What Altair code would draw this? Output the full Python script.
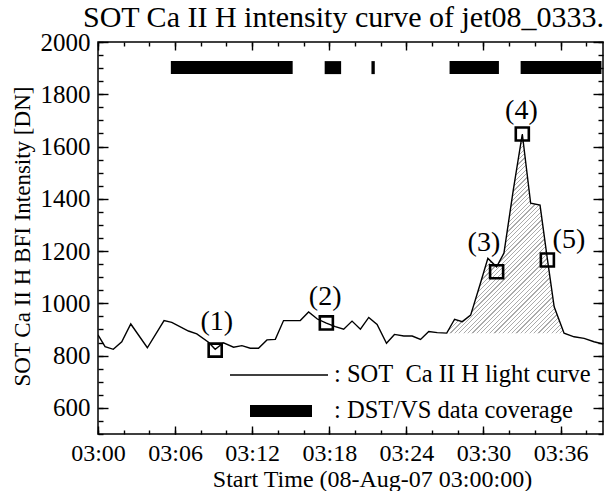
import math
import altair as alt
import pandas as pd

# ---------------- data ----------------
# minutes after 03:00:00
t_min = [0.00, 0.55, 1.19, 1.85, 2.55, 3.84, 5.14, 5.74, 7.04, 7.69,
         8.60, 9.12, 9.77, 10.55, 11.20, 11.85, 12.49, 13.15, 13.80, 14.44,
         15.74, 16.39, 17.07, 17.77, 18.47, 19.12, 19.77, 20.42, 21.07, 21.72,
         22.45, 23.07, 23.80, 24.45, 25.10, 25.74, 26.40, 27.14, 27.75, 28.35,
         29.00, 29.72, 30.34, 31.02, 31.59, 32.32, 33.02, 33.67, 34.40, 34.97,
         35.50, 36.27, 37.05, 37.83, 38.60, 39.36]
intensity = [879, 834, 824, 853, 921, 830, 934, 927, 894, 883,
             851, 824, 849, 832, 838, 828, 828, 860, 862, 934,
             934, 967, 940, 924, 911, 901, 932, 901, 946, 919,
             847, 881, 875, 875, 862, 892, 888, 886, 939, 930,
             955, 1070, 1172, 1140, 1192, 1434, 1648, 1383, 1376, 1170,
             987, 886, 872, 866, 853, 844]

# hatched interval
hatch_start = 27.14
hatch_end = 36.27
hatch_base = 886

# marked frames (1)..(5)
box_t = [9.12, 17.77, 31.02, 33.02, 34.97]
box_v = [821, 925, 1121, 1648, 1166]
label_text = ["(1)", "(2)", "(3)", "(4)", "(5)"]
label_t = [9.25, 17.68, 30.03, 32.95, 36.65]
label_v = [930, 1025, 1232, 1737, 1242]

# DST/VS data coverage (minutes after 03:00)
cov_start = [5.67, 17.64, 21.28, 27.36, 32.89]
cov_end = [15.15, 18.92, 21.54, 31.20, 39.18]
cov_level = 1902

x_tick_values = [0, 6, 12, 18, 24, 30, 36]
x_tick_labels = ["03:00", "03:06", "03:12", "03:18", "03:24", "03:30", "03:36"]
x_minor_values = list(range(0, 40, 2))
y_tick_values = [600, 800, 1000, 1200, 1400, 1600, 1800, 2000]
y_minor_values = list(range(500, 2001, 50))

legend_texts = [":\u00a0SOT\u00a0 Ca II H light curve", ":\u00a0DST/VS data coverage"]

TITLE = "SOT Ca II H intensity curve of jet08_0333."
X_TITLE = "Start Time (08-Aug-07 03:00:00)"
Y_TITLE = "SOT Ca II H BFI Intensity [DN]"

# ---------------- layout ----------------
W, H = 505, 392
X_DOMAIN = [0, 39.3]
Y_DOMAIN = [500, 2000]
FONT = "Liberation Serif"

curve = pd.DataFrame({"t": t_min, "v": intensity})
boxes_df = pd.DataFrame({"t": box_t, "v": box_v})
labels_df = pd.DataFrame({"t": label_t, "v": label_v, "label": label_text})
cov_df = pd.DataFrame({"s": cov_start, "e": cov_end})
one = pd.DataFrame({"k": [0]})

xs = alt.Scale(domain=X_DOMAIN, nice=False, zero=False)
ys = alt.Scale(domain=Y_DOMAIN, nice=False, zero=False)

label_expr = "''"
for v, l in reversed(list(zip(x_tick_values, x_tick_labels))):
    label_expr = f"datum.value == {v} ? '{l}' : {label_expr}"


def tick_axis(orient, values, size, **kw):
    return alt.Axis(orient=orient, values=values, tickSize=size, offset=-size,
                    domain=False, grid=False, ticks=True, tickColor="black",
                    tickWidth=1.4, labelOverlap=False, labelFlush=False, **kw)


x_major = tick_axis("bottom", x_tick_values, 8, labelExpr=label_expr,
                    labelPadding=7, labelFontSize=24, title=X_TITLE,
                    titleFontSize=24, titleX=274, titleY=60,
                    titleBaseline="alphabetic", titleAnchor="middle")
x_minor = tick_axis("bottom", x_minor_values, 4, labels=False, title=None)
x_top_major = tick_axis("top", x_tick_values, 8, labels=False, title=None)
x_top_minor = tick_axis("top", x_minor_values, 4, labels=False, title=None)

y_major = tick_axis("left", y_tick_values, 10, format="d", labelPadding=8,
                    labelFontSize=25, title=Y_TITLE, titleFontSize=23,
                    titleX=-86, titleY=194, titleAngle=-90,
                    titleBaseline="middle", titleAlign="center")
y_minor = tick_axis("left", y_minor_values, 5, labels=False, title=None)
y_right_major = tick_axis("right", y_tick_values, 10, labels=False, title=None)
y_right_minor = tick_axis("right", y_minor_values, 5, labels=False, title=None)

# ---- hatch pattern as a striped linear gradient (45 degree lines) ----
px_min = W / (X_DOMAIN[1] - X_DOMAIN[0])
px_unit = H / (Y_DOMAIN[1] - Y_DOMAIN[0])
bw = (hatch_end - hatch_start) * px_min
bh = (max(intensity) - hatch_base) * px_unit
k = (bw + bh) / (bw ** 2 + bh ** 2)
extent = (bw + bh) / math.sqrt(2)
period = 3.1
line_w = 0.85
n = int(extent / period)
stops = [alt.GradientStop(color="white", offset=0)]
for i in range(n):
    o0 = i / n
    o1 = min(1.0, o0 + line_w / extent)
    stops += [alt.GradientStop(color="white", offset=o0),
              alt.GradientStop(color="#ababab", offset=o0),
              alt.GradientStop(color="#ababab", offset=o1),
              alt.GradientStop(color="white", offset=o1)]
stops.append(alt.GradientStop(color="white", offset=1))
hatch = alt.LinearGradient(gradient="linear", stops=stops, x1=0, y1=0,
                           x2=k * bw, y2=k * bh)

area = alt.Chart(curve).transform_filter(
    (alt.datum.t >= hatch_start) & (alt.datum.t <= hatch_end)
).mark_area(color=hatch, opacity=1).encode(
    x=alt.X("t:Q", scale=xs, axis=x_major),
    y=alt.Y("v:Q", scale=ys, axis=y_major),
    y2=alt.datum(hatch_base),
)

coverage = alt.Chart(cov_df).mark_rule(color="black", strokeWidth=13,
                                       strokeCap="butt").encode(
    x=alt.X("s:Q", scale=xs, axis=None),
    x2="e:Q",
    y=alt.YDatum(cov_level, scale=ys, axis=None),
)

line = alt.Chart(curve).mark_line(color="black", strokeWidth=1.4, clip=True).encode(
    x=alt.X("t:Q", scale=xs, axis=x_minor),
    y=alt.Y("v:Q", scale=ys, axis=y_minor),
)

boxes = alt.Chart(boxes_df).mark_point(shape="square", size=170, filled=False,
                                       stroke="black", strokeWidth=2.6,
                                       opacity=1).encode(
    x=alt.X("t:Q", scale=xs, axis=x_top_major),
    y=alt.Y("v:Q", scale=ys, axis=y_right_major),
)

labels = alt.Chart(labels_df).mark_text(fontSize=28, baseline="middle",
                                        color="black").encode(
    x=alt.X("t:Q", scale=xs, axis=x_top_minor),
    y=alt.Y("v:Q", scale=ys, axis=y_right_minor),
    text="label:N",
)

leg_line = alt.Chart(one).mark_rule(color="black", strokeWidth=1.4).encode(
    x=alt.value(132), x2=alt.value(230), y=alt.value(333))
leg_bar = alt.Chart(one).mark_rect(color="black").encode(
    x=alt.value(152), x2=alt.value(214), y=alt.value(363), y2=alt.value(375))
leg_t1 = alt.Chart(one).mark_text(fontSize=24.5, align="left", baseline="middle",
                                  color="black").encode(
    x=alt.value(236), y=alt.value(333), text=alt.value(legend_texts[0]))
leg_t2 = alt.Chart(one).mark_text(fontSize=24.5, align="left", baseline="middle",
                                  color="black").encode(
    x=alt.value(236), y=alt.value(369), text=alt.value(legend_texts[1]))

chart = alt.layer(
    area, coverage, line, boxes, labels, leg_line, leg_bar, leg_t1, leg_t2
).resolve_axis(
    x="independent", y="independent"
).properties(
    width=W, height=H,
    padding={"left": 98, "top": 42, "right": 3, "bottom": 57},
    autosize=alt.AutoSizeParams(type="none"),
    title=alt.TitleParams(TITLE, fontSize=30, anchor="middle", frame="group",
                          offset=10, dx=-7, dy=13, fontWeight="normal",
                          color="black"),
).configure(
    font=FONT, background="white"
).configure_view(
    stroke="black", strokeWidth=1.5
).configure_axis(
    labelFont=FONT, titleFont=FONT, labelColor="black", titleColor="black",
    titleFontWeight="normal",
).configure_title(
    font=FONT,
)

chart.save("out.html", embed_options={"renderer": "svg", "actions": False})
